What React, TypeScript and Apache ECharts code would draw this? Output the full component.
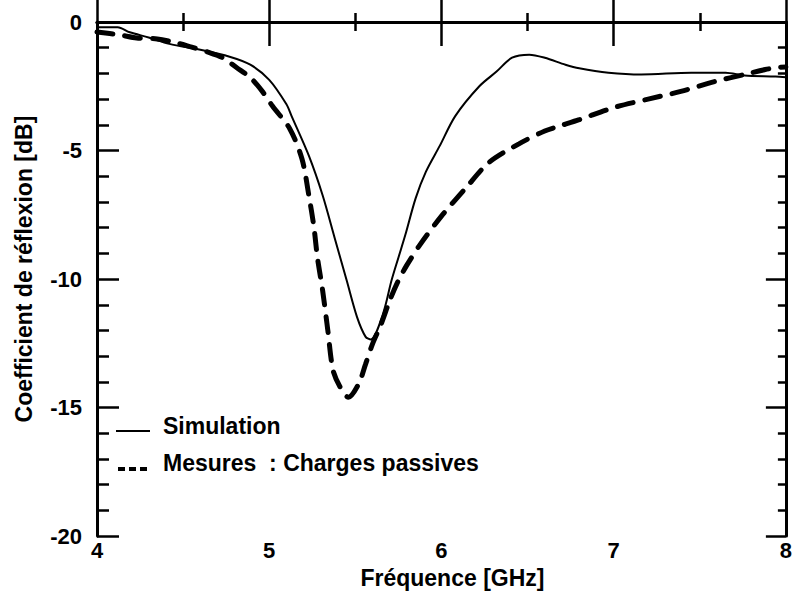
import React, { useEffect, useRef } from "react";
import * as echarts from "echarts";

const simFreq = [4.0, 4.12, 4.19, 4.3, 4.42, 4.6, 4.77, 4.89, 5.0, 5.1, 5.13, 5.23, 5.31, 5.38, 5.45, 5.51, 5.56, 5.59, 5.66, 5.71, 5.75, 5.79, 5.85, 5.91, 5.99, 6.08, 6.22, 6.32, 6.41, 6.51, 6.6, 6.72, 6.8, 6.97, 7.16, 7.45, 7.65, 7.76, 7.94, 8.0];
const simDb = [-0.2, -0.2, -0.4, -0.6, -0.85, -1.08, -1.35, -1.66, -2.25, -3.2, -3.66, -5.2, -6.74, -8.4, -10.06, -11.48, -12.25, -12.35, -11.37, -10.06, -9.17, -8.29, -6.86, -5.82, -4.82, -3.66, -2.5, -1.93, -1.39, -1.27, -1.39, -1.66, -1.8, -1.97, -2.04, -1.97, -1.97, -2.08, -2.12, -2.15];

const mesFreq = [4.0, 4.13, 4.23, 4.35, 4.46, 4.54, 4.64, 4.73, 4.81, 4.89, 4.96, 5.02, 5.12, 5.19, 5.23, 5.26, 5.28, 5.31, 5.34, 5.37, 5.41, 5.46, 5.52, 5.56, 5.6, 5.65, 5.7, 5.75, 5.8, 5.875, 6.0, 6.14, 6.275, 6.45, 6.6, 6.68, 6.8, 7.01, 7.2, 7.39, 7.59, 7.76, 7.88, 7.95, 8.0];
const mesDb = [-0.39, -0.5, -0.62, -0.66, -0.81, -0.96, -1.16, -1.39, -1.77, -2.16, -2.7, -3.28, -4.16, -5.32, -6.74, -8.0, -9.17, -10.44, -11.98, -13.53, -14.18, -14.6, -14.07, -13.3, -12.52, -11.75, -10.83, -10.06, -9.45, -8.67, -7.55, -6.47, -5.47, -4.74, -4.24, -4.06, -3.8, -3.31, -3.0, -2.7, -2.31, -2.04, -1.85, -1.77, -1.75];

const seriesNames = ["Simulation", "Mesures  : Charges passives"];
const xTitle = "Fréquence [GHz]";
const yTitle = "Coefficient de réflexion [dB]";

const FONT = "'Liberation Sans', Arial, sans-serif";

export default function App() {
  const ref = useRef<HTMLDivElement>(null);
  useEffect(() => {
    const chart = echarts.init(ref.current!, null, { renderer: "svg" });
    const axisLine = { show: true, lineStyle: { color: "#000", width: 3 } };
    const tickLabel = { color: "#000", fontFamily: FONT, fontWeight: "bold", fontSize: 22 };
    const nameStyle = { color: "#000", fontFamily: FONT, fontWeight: "bold", fontSize: 23 };
    const xBase = {
      type: "value",
      min: 4,
      max: 8,
      interval: 1,
      axisLine,
      splitLine: { show: false },
      axisTick: { show: true, inside: true, length: 24, lineStyle: { color: "#000", width: 2.5 } },
      minorTick: { show: true, splitNumber: 2, length: 9, lineStyle: { color: "#000", width: 2.5 } },
      minorSplitLine: { show: false },
    };
    const yBase = {
      type: "value",
      min: -20,
      max: 0,
      interval: 5,
      axisLine,
      splitLine: { show: false },
      minorSplitLine: { show: false },
    };
    chart.setOption({
      animation: false,
      backgroundColor: "#fff",
      grid: { left: 97, top: 22, right: 7, bottom: 53, containLabel: false },
      xAxis: [
        {
          ...xBase,
          position: "bottom",
          name: xTitle,
          nameLocation: "middle",
          nameGap: 27,
          nameTextStyle: { ...nameStyle, padding: [0, 0, 0, 22] },
          axisLabel: { ...tickLabel, margin: 3 },
        },
        {
          ...xBase,
          position: "top",
          axisLabel: { show: false },
        },
      ],
      yAxis: [
        {
          ...yBase,
          position: "left",
          name: yTitle,
          nameLocation: "middle",
          nameGap: 62,
          nameTextStyle: { ...nameStyle, padding: [0, 0, 0, 20] },
          axisLabel: { ...tickLabel, margin: 15 },
          axisTick: { show: true, inside: true, length: 22, lineStyle: { color: "#000", width: 2.5 } },
          minorTick: { show: true, splitNumber: 5, length: 12, lineStyle: { color: "#000", width: 2.5 } },
        },
        {
          ...yBase,
          position: "right",
          axisLabel: { show: false },
          axisTick: { show: true, inside: true, length: 20, lineStyle: { color: "#000", width: 2.5 } },
          minorTick: { show: true, splitNumber: 5, length: 8, lineStyle: { color: "#000", width: 2.5 } },
        },
      ],
      series: [
        {
          name: seriesNames[0],
          type: "line",
          xAxisIndex: 0,
          yAxisIndex: 0,
          data: simFreq.map((f, i) => [f, simDb[i]]),
          symbol: "none",
          smooth: 0.3,
          lineStyle: { color: "#000", width: 2 },
        },
        {
          name: seriesNames[1],
          type: "line",
          xAxisIndex: 0,
          yAxisIndex: 0,
          data: mesFreq.map((f, i) => [f, mesDb[i]]),
          symbol: "none",
          smooth: 0.3,
          lineStyle: { color: "#000", width: 5, type: [16, 12], cap: "round" },
        },
      ],
      graphic: [
        { type: "line", shape: { x1: 116, y1: 431, x2: 150, y2: 431 }, style: { stroke: "#000", lineWidth: 2 } },
        {
          type: "text",
          x: 163,
          y: 426,
          style: { text: seriesNames[0], fill: "#000", font: `bold 23px ${FONT}`, verticalAlign: "middle" },
        },
        {
          type: "line",
          shape: { x1: 118, y1: 469, x2: 147, y2: 469 },
          style: { stroke: "#000", lineWidth: 4, lineDash: [7, 4] },
        },
        {
          type: "text",
          x: 163,
          y: 463,
          style: { text: seriesNames[1], fill: "#000", font: `bold 23px ${FONT}`, verticalAlign: "middle" },
        },
      ],
    });
    return () => chart.dispose();
  }, []);
  return <div ref={ref} style={{ width: 795, height: 594, position: "absolute", left: 0, top: 0 }} />;
}
